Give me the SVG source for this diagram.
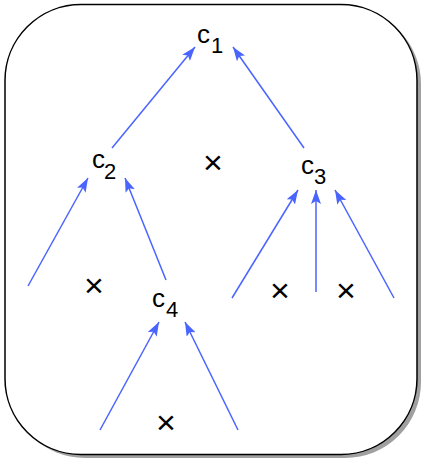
<svg xmlns="http://www.w3.org/2000/svg" width="421" height="460" viewBox="0 0 421 460">
<style>
.lbl{font-family:"Liberation Sans",Arial,sans-serif;fill:#000}
.c{font-size:26px}
.s{font-size:22px}
.x{font-family:"Liberation Sans",Arial,sans-serif;font-size:34px;fill:#000;text-anchor:middle}
.e{stroke:#4a64ff;stroke-width:1.5;fill:none;marker-end:url(#ah)}
</style>
<defs>
<marker id="ah" markerWidth="14" markerHeight="10" refX="14" refY="5" orient="auto" markerUnits="userSpaceOnUse">
<path d="M0,0 L14,5 L0,10 L3,5 Z" fill="#4a64ff"/>
</marker>
</defs>
<g id="frame">
<rect x="9" y="8" width="412" height="450" rx="76" ry="76" fill="#a0a0a0"/>
<rect x="5" y="4.5" width="412" height="450" rx="76" ry="76" fill="#fff" stroke="#000" stroke-width="1.5"/>
</g>
<g id="connectors">
<line class="e" x1="112" y1="148" x2="195" y2="47"/>
<line class="e" x1="304" y1="148" x2="233" y2="47"/>
<line class="e" x1="28" y1="286" x2="88" y2="178"/>
<line class="e" x1="166" y1="280" x2="125" y2="178"/>
<line class="e" x1="232" y1="298" x2="298" y2="190"/>
<line class="e" x1="316" y1="292" x2="316" y2="190"/>
<line class="e" x1="394" y1="298" x2="335" y2="190"/>
<line class="e" x1="100" y1="430" x2="159" y2="322"/>
<line class="e" x1="238" y1="430" x2="185" y2="322"/>
</g>
<g id="c1"><text class="lbl c" x="197" y="43">c</text><text class="lbl s" x="211" y="53">1</text></g>
<g id="c2"><text class="lbl c" x="92" y="168">c</text><text class="lbl s" x="104" y="179">2</text></g>
<g id="c3"><text class="lbl c" x="301" y="174">c</text><text class="lbl s" x="314" y="184">3</text></g>
<g id="c4"><text class="lbl c" x="152" y="307">c</text><text class="lbl s" x="166" y="317">4</text></g>
<g id="crosses">
<text class="x" x="213" y="174">×</text>
<text class="x" x="94" y="297">×</text>
<text class="x" x="280" y="302">×</text>
<text class="x" x="346" y="302">×</text>
<text class="x" x="166" y="434">×</text>
</g>
</svg>
